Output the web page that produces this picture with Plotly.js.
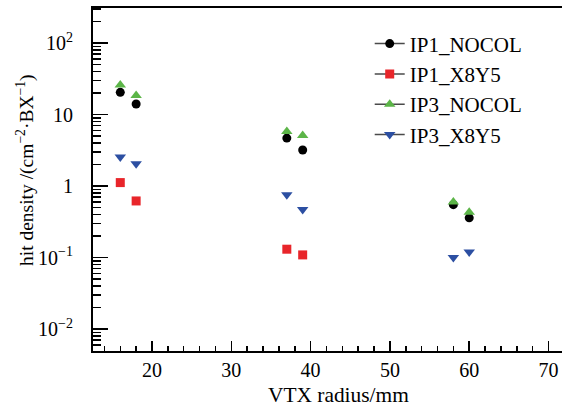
<!DOCTYPE html>
<html>
<head>
<meta charset="utf-8">
<script src="https://cdn.plot.ly/plotly-3.0.1.min.js"></script>
<style>html,body{margin:0;padding:0;background:#fff;}#chart{width:562px;height:407px;}</style>
</head>
<body>
<div id="chart"></div>
<script>
// Data
const radius = [16, 18, 37, 39, 58, 60];
const ip1Nocol = [20.5, 14.1, 4.7, 3.2, 0.55, 0.36];
const ip1X8Y5 = [1.12, 0.62, 0.131, 0.109];
const ip1X8Y5Radius = [16, 18, 37, 39];
const ip3Nocol = [26, 18.6, 5.8, 5.1, 0.6, 0.43];
const ip3X8Y5 = [2.55, 2.05, 0.76, 0.47, 0.1, 0.12];
const seriesNames = ['IP1_NOCOL', 'IP1_X8Y5', 'IP3_NOCOL', 'IP3_X8Y5'];
const yTickVals = [0.01, 0.1, 1, 10, 100];
const yTickText = ['10<sup>−2</sup>', '10<sup>−1</sup>', '1', '10', '10<sup>2</sup>'];

// insert gaps so only markers show on the plot while legend shows line+marker
function gapped(arr) {
  const out = [];
  arr.forEach((v, i) => { if (i > 0) out.push(null); out.push(v); });
  return out;
}

const font = 'Liberation Serif, Times New Roman, serif';
const lineStyle = {color: '#4a4a4a', width: 1.5};
function trace(name, xs, ys, symbol, color, size) {
  return {
    type: 'scatter', mode: 'lines+markers', name: name,
    x: gapped(xs), y: gapped(ys), connectgaps: false,
    line: lineStyle,
    marker: {symbol: symbol, color: color, size: size, line: {width: 0}}
  };
}

const data = [
  trace(seriesNames[0], radius, ip1Nocol, 'circle', '#000000', 9),
  trace(seriesNames[1], ip1X8Y5Radius, ip1X8Y5, 'square', '#e8252a', 9),
  trace(seriesNames[2], radius, ip3Nocol, 'triangle-up', '#5cb548', 10),
  trace(seriesNames[3], radius, ip3X8Y5, 'triangle-down', '#2c4fa2', 10)
];

const layout = {
  width: 562, height: 407,
  margin: {l: 93, r: 0, t: 8, b: 56},
  paper_bgcolor: '#ffffff', plot_bgcolor: '#ffffff',
  font: {family: font, size: 20, color: '#000'},
  showlegend: true,
  legend: {x: 0.59, y: 0.955, xanchor: 'left', yanchor: 'top',
    bgcolor: 'rgba(0,0,0,0)', font: {family: font, size: 21, color: '#000'}},
  xaxis: {
    range: [12.56, 71.7], showgrid: false, zeroline: false,
    showline: true, linecolor: '#000', linewidth: 2, mirror: true,
    ticks: 'inside', ticklen: 10, tickwidth: 1.5, tickcolor: '#000',
    dtick: 10, tick0: 0,
    minor: {ticks: 'inside', ticklen: 5, tickwidth: 1.5, tickcolor: '#000', dtick: 2, showgrid: false},
    tickfont: {family: font, size: 20}
  },
  yaxis: {
    type: 'log', range: [-2.307, 2.492], showgrid: false, zeroline: false,
    showline: true, linecolor: '#000', linewidth: 2,
    ticks: 'inside', ticklen: 15, tickwidth: 1.5, tickcolor: '#000',
    tickmode: 'array', tickvals: yTickVals, ticktext: yTickText,
    ticklabelstandoff: 14,
    minor: {ticks: 'inside', ticklen: 8, tickwidth: 1.5, tickcolor: '#000', dtick: 'D1', showgrid: false},
    tickfont: {family: font, size: 20}
  },
  annotations: [
    {text: 'VTX radius/mm', xref: 'paper', yref: 'paper', x: (338 - 93) / 469, y: -(395 - 351) / 343,
     xanchor: 'center', yanchor: 'middle', showarrow: false, font: {family: font, size: 21.4}},
    {text: 'hit density /(cm<sup>−2</sup>·BX<sup>−1</sup>)', xref: 'paper', yref: 'paper',
     x: (26 - 93) / 469, y: (351 - 170) / 343, textangle: -90,
     xanchor: 'center', yanchor: 'middle', showarrow: false, font: {family: font, size: 19.5}}
  ]
};

Plotly.newPlot('chart', data, layout, {displayModeBar: false, staticPlot: true});
</script>
</body>
</html>
